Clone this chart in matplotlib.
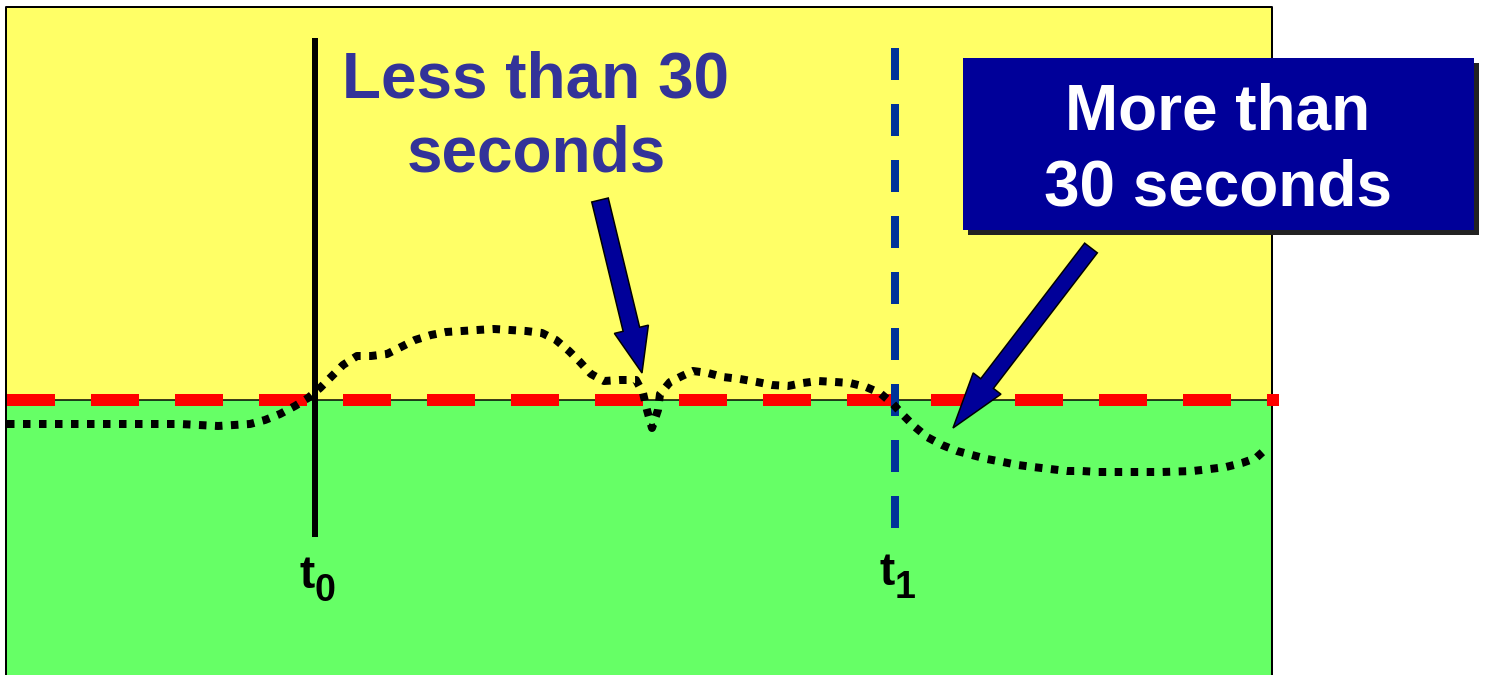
import matplotlib
matplotlib.use("Agg")
import matplotlib.pyplot as plt
from matplotlib.patches import Rectangle, FancyArrow

plt.rcParams["font.family"] = ["Liberation Sans", "DejaVu Sans"]
plt.rcParams["lines.scale_dashes"] = False

PX = 0.72  # points per pixel at dpi 100

# signal trace (pixel space of the slide: x to the right, y downwards)
curve_x = [7, 60, 120, 180, 218, 250, 265, 280, 295, 308, 320, 332, 343, 357,
           371, 387, 401, 415, 431, 446, 462, 477, 494, 510, 526, 542, 556,
           569, 580, 591, 604, 620, 636, 643, 647, 652, 658, 660, 670, 682,
           693, 708, 723, 740, 757, 772, 788, 803, 818, 835, 850, 866, 880,
           893, 904, 915, 927, 942, 957, 972, 987, 1003, 1018, 1033, 1050,
           1067, 1082, 1098, 1130, 1162, 1193, 1210, 1226, 1242, 1256, 1267]
curve_y = [424, 424, 424, 424, 426, 424, 420, 414, 406, 398, 388, 376, 365,
           356, 356, 354, 347, 340, 335, 332, 331, 330, 329, 330, 331, 333,
           340, 351, 362, 374, 381, 380, 380, 393, 410, 428, 410, 394, 382,
           376, 371, 373, 377, 379, 382, 385, 386, 383, 381, 382, 383, 387,
           393, 404, 416, 427, 437, 445, 451, 455, 459, 462, 465, 467, 469,
           471, 471, 472, 472, 472, 471, 469, 467, 463, 458, 448]

threshold_y = 400
t0_x = 315
t1_x = 895
left, right, top, bottom = 6, 1272, 7, 675

label_less = ["Less than 30", "seconds"]
label_more = ["More than", "30 seconds"]

fig = plt.figure(figsize=(14.86, 6.75), dpi=100)
ax = fig.add_axes([0, 0, 1, 1])
ax.set_xlim(0, 1486)
ax.set_ylim(675, 0)
ax.axis("off")

# background zones
ax.add_patch(Rectangle((left, top), right - left, threshold_y - top,
                       facecolor="#FFFF66", edgecolor="none", zorder=0))
ax.add_patch(Rectangle((left, threshold_y), right - left, bottom - threshold_y,
                       facecolor="#66FF66", edgecolor="none", zorder=0))
ax.plot([left, left, right, right], [bottom + 5, top, top, bottom + 5],
        color="black", lw=2 * PX, zorder=1)
ax.plot([left, right], [threshold_y, threshold_y], color="black", lw=1.5 * PX, zorder=1)

# threshold
ax.plot([7, 1279], [threshold_y, threshold_y], color="#FF0000", lw=12 * PX,
        dashes=(48 * PX, 36 * PX), zorder=3)

# t0 / t1 markers
ax.plot([t0_x, t0_x], [38, 537], color="black", lw=6 * PX, solid_capstyle="butt", zorder=4)
ax.plot([t1_x, t1_x], [48, 528], color="#003399", lw=8 * PX,
        dashes=(32 * PX, 24 * PX), zorder=4)

# trace
ax.plot(curve_x, curve_y, color="black", lw=8 * PX,
        dashes=(7.5 * PX, 8.5 * PX), dash_capstyle="butt", zorder=5)

# t labels
for x, sub, yb in [(t0_x, "0", 588), (t1_x, "1", 585)]:
    ax.text(x, yb, "t", fontsize=33, fontweight="bold", color="black",
            ha="right", va="baseline", zorder=6)
    ax.text(x, yb + 13, sub, fontsize=27, fontweight="bold", color="black",
            ha="left", va="baseline", zorder=6)

# left annotation
ax.text(536, 97, label_less[0], fontsize=46, fontweight="bold", color="#333399",
        ha="center", va="baseline", zorder=6)
ax.text(536, 172, label_less[1], fontsize=46, fontweight="bold", color="#333399",
        ha="center", va="baseline", zorder=6)

# right annotation box with shadow
ax.add_patch(Rectangle((968, 63), 511, 172, facecolor="#222222", edgecolor="none", zorder=6))
ax.add_patch(Rectangle((963, 58), 511, 172, facecolor="#000099", edgecolor="none", zorder=7))
ax.text(1218, 130, label_more[0], fontsize=46, fontweight="bold", color="white",
        ha="center", va="baseline", zorder=8)
ax.text(1218, 206, label_more[1], fontsize=46, fontweight="bold", color="white",
        ha="center", va="baseline", zorder=8)

# arrows
ax.add_patch(FancyArrow(600, 200, 42, 173, width=17, head_width=35, head_length=45,
                        length_includes_head=True, facecolor="#000099",
                        edgecolor="black", lw=1.5 * PX, zorder=7))
ax.add_patch(FancyArrow(1091, 248, -138, 180, width=16, head_width=35, head_length=56,
                        length_includes_head=True, facecolor="#000099",
                        edgecolor="black", lw=1.5 * PX, zorder=7))

fig.savefig("out.png", dpi=100)
